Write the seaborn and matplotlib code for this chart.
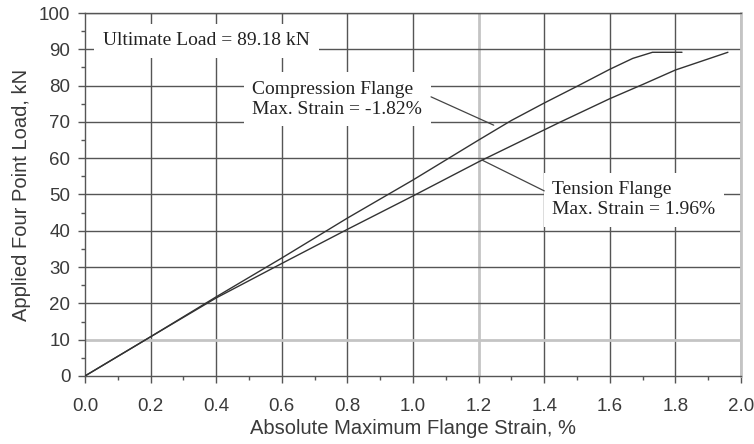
import numpy as np
import pandas as pd
import matplotlib
matplotlib.use("Agg")
import matplotlib.pyplot as plt
import seaborn as sns

# Load vs. absolute maximum flange strain for the four point bending test
comp_strain = [0.0, 0.2, 0.4, 0.6, 0.8, 1.0, 1.1, 1.2, 1.3, 1.4, 1.5, 1.6, 1.67, 1.73, 1.82]
comp_load = [0.0, 10.8, 21.8, 32.5, 43.5, 54.0, 59.5, 65.0, 70.4, 75.2, 79.8, 84.5, 87.5, 89.18, 89.18]

tens_strain = [0.0, 0.2, 0.4, 0.6, 0.8, 1.0, 1.2, 1.45, 1.6, 1.7, 1.8, 1.96]
tens_load = [0.0, 10.8, 21.5, 31.0, 40.4, 49.6, 59.0, 70.0, 76.4, 80.3, 84.3, 89.18]

ultimate_load = 89.18
comp_max_strain = -1.82
tens_max_strain = 1.96

x_ticks = [0.0, 0.2, 0.4, 0.6, 0.8, 1.0, 1.2, 1.4, 1.6, 1.8, 2.0]
y_ticks = [0, 10, 20, 30, 40, 50, 60, 70, 80, 90, 100]

df = pd.concat([
    pd.DataFrame({"strain": comp_strain, "load": comp_load, "flange": "Compression"}),
    pd.DataFrame({"strain": tens_strain, "load": tens_load, "flange": "Tension"}),
])

sns.set_style("white")
plt.rcParams["font.family"] = ["Liberation Sans", "DejaVu Sans"]

fig = plt.figure(figsize=(7.54, 4.44), dpi=100)
ax = fig.add_axes([0.1127, 0.1532, 0.8701, 0.8175])

grid_dark = "#555555"
grid_light = "#c4c4c4"
for xv in x_ticks[1:]:
    light = xv in (1.2, 2.0)
    ax.axvline(xv, color=grid_light if light else grid_dark,
               lw=2.0 if light else 1.0, zorder=1)
for yv in y_ticks[1:]:
    light = yv == 10
    ax.axhline(yv, color=grid_light if light else grid_dark,
               lw=2.0 if light else 1.0, zorder=1)

sns.lineplot(data=df, x="strain", y="load", units="flange", estimator=None,
             sort=False, color="#333333", lw=1.0, ax=ax, zorder=4, legend=False)

ax.set_xlim(0, 2.0)
ax.set_ylim(0, 100)
ax.set_xticks(x_ticks)
ax.set_xticklabels([f"{v:.1f}" for v in x_ticks])
ax.set_yticks(y_ticks)
ax.set_xticks(np.arange(0.1, 2.0, 0.2), minor=True)
ax.set_yticks(np.arange(5, 100, 10), minor=True)
ax.tick_params(axis="both", which="major", direction="out", length=5, width=1,
               color=grid_dark, labelsize=13.5, labelcolor="#3a3a3a", pad=5.5)
ax.tick_params(axis="both", which="minor", direction="out", length=3, width=1,
               color=grid_dark)
ax.tick_params(axis="x", which="both", bottom=True)
ax.tick_params(axis="y", which="both", left=True)
ax.tick_params(axis="x", which="major", pad=11)

for side in ("left", "bottom", "top"):
    ax.spines[side].set_color(grid_dark)
    ax.spines[side].set_linewidth(1.0)
ax.spines["right"].set_color(grid_light)
ax.spines["right"].set_linewidth(2.0)

ax.set_xlabel("Absolute Maximum Flange Strain, %", fontsize=14.5, color="#3a3a3a",
              labelpad=3)
ax.set_ylabel("Applied Four Point Load, kN", fontsize=14.5, color="#3a3a3a",
              labelpad=6)

serif = ["Liberation Serif", "DejaVu Serif"]
box = dict(boxstyle="square,pad=0.45", fc="white", ec="none")

ax.text(0.055, 92.3, f"Ultimate Load = {ultimate_load:.2f} kN", family=serif,
        fontsize=14, color="#222222", va="center", ha="left", bbox=box, zorder=3)

ax.text(0.51, 76.2, f"Compression Flange\nMax. Strain = {comp_max_strain:.2f}%",
        family=serif, fontsize=14, color="#222222", va="center", ha="left",
        linespacing=1.2, bbox=box, zorder=3)
ax.annotate("", xy=(1.246, 69.1), xytext=(1.055, 76.9),
            arrowprops=dict(arrowstyle="-", color="#444444", lw=0.9,
                            shrinkA=0, shrinkB=0), zorder=5)

ax.text(1.425, 48.6, f"Tension Flange\nMax. Strain = {tens_max_strain:.2f}%",
        family=serif, fontsize=14, color="#222222", va="center", ha="left",
        linespacing=1.2, bbox=box, zorder=3)
ax.annotate("", xy=(1.21, 59.5), xytext=(1.40, 51.0),
            arrowprops=dict(arrowstyle="-", color="#444444", lw=0.9,
                            shrinkA=0, shrinkB=0), zorder=5)

fig.savefig("out.png", dpi=100)
